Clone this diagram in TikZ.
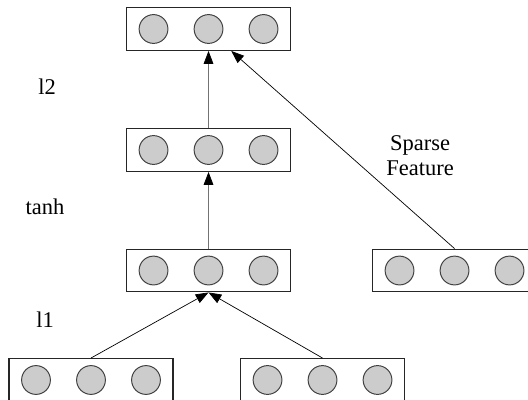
\documentclass[tikz,border=0pt]{standalone}
\usepackage{fontspec}
\setmainfont{Liberation Serif}
\usetikzlibrary{arrows.meta}

\begin{document}
\begin{tikzpicture}[
  layer/.style={draw=black!85,line width=0.8pt,minimum width=4.1cm,minimum height=1.07cm,inner sep=0pt},
  unit/.style={fill=black!20,draw=black!75,line width=0.7pt},
  link/.style={-{Triangle[length=3.2mm,width=2.4mm,color=black]},line width=0.5pt},
  tag/.style={font=\fontsize{16}{18}\selectfont,align=center}]
\useasboundingbox (0.000,0.000) rectangle (13.200,-10.000);
\node[layer] (top) at (5.213,-0.725) {};
\draw[unit] (3.838,-0.725) circle (0.36);
\draw[unit] (5.213,-0.725) circle (0.36);
\draw[unit] (6.588,-0.725) circle (0.36);
\node[layer] (mid) at (5.213,-3.750) {};
\draw[unit] (3.838,-3.750) circle (0.36);
\draw[unit] (5.213,-3.750) circle (0.36);
\draw[unit] (6.588,-3.750) circle (0.36);
\node[layer] (hid) at (5.213,-6.763) {};
\draw[unit] (3.838,-6.763) circle (0.36);
\draw[unit] (5.213,-6.763) circle (0.36);
\draw[unit] (6.588,-6.763) circle (0.36);
\node[layer] (sparse) at (11.363,-6.763) {};
\draw[unit] (9.988,-6.763) circle (0.36);
\draw[unit] (11.363,-6.763) circle (0.36);
\draw[unit] (12.738,-6.763) circle (0.36);
\node[layer] (left) at (2.275,-9.500) {};
\draw[unit] (0.900,-9.500) circle (0.36);
\draw[unit] (2.275,-9.500) circle (0.36);
\draw[unit] (3.650,-9.500) circle (0.36);
\node[layer] (right) at (8.063,-9.500) {};
\draw[unit] (6.688,-9.500) circle (0.36);
\draw[unit] (8.063,-9.500) circle (0.36);
\draw[unit] (9.438,-9.500) circle (0.36);
% arrows between layers
\draw[link,draw=black!55] (mid.north) -- (top.south);
\draw[link,draw=black!55] (hid.north) -- (mid.south);
\draw[link] (sparse.north) -- (top.-44);
\draw[link] (left.north) -- (hid.south);
\draw[link] (right.north) -- (hid.south);
% labels
\node[tag] (ltwo) at (1.175,-2.175) {l2};
\node[tag] (act) at (1.125,-5.175) {tanh};
\node[tag] (lone) at (1.125,-8.000) {l1};
\node[tag] (feat) at (10.500,-3.890) {Sparse\\Feature};
\end{tikzpicture}
\end{document}
